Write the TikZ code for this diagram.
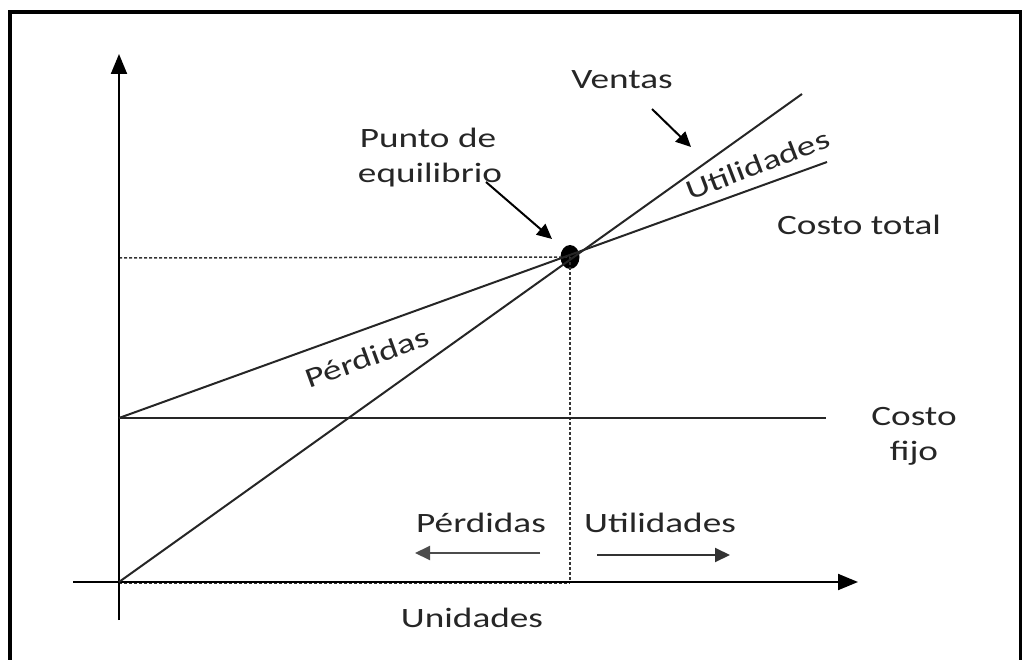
\documentclass[tikz,border=0pt]{standalone}
\usepackage{fontspec}
\setmainfont{Carlito}[FakeStretch=1.33]
\usetikzlibrary{arrows.meta,shapes.geometric}
\begin{document}
\begin{tikzpicture}[x=1pt,y=-1pt,
  line/.style={line width=2pt,black!85},
  dash line/.style={line width=1.5pt,dash pattern=on 3pt off 2pt,black!80},
  axisarrow/.style={line width=2pt,-{Triangle[length=20pt,width=16pt]}},
  smallarrow/.style={line width=2pt,-{Triangle[length=15pt,width=14pt]}},
  lbl/.style={inner sep=0pt,anchor=base,font=\fontsize{28}{35}\selectfont,text=black!85}]
\useasboundingbox (0,0) rectangle (1022,660);
% frame
\draw[line width=4pt] (10,664) -- (10,12) -- (1022,12);
\draw[line width=2.5pt] (1020.5,12) -- (1020.5,664);
% coordinates
\coordinate (O) at (119,582);
\coordinate (ytop) at (119,54);
\coordinate (ybot) at (119,620);
\coordinate (xleft) at (73,582);
\coordinate (xright) at (858,582);
\coordinate (V) at (802,94);
\coordinate (CT0) at (119,418);
\coordinate (CT) at (827,162);
\coordinate (CF) at (826,418);
\coordinate (Ey) at (119,258);
\coordinate (Ex) at (570,583);
\node[ellipse,fill=black,minimum width=19pt,minimum height=24pt,inner sep=0pt] (E) at (570,257) {};
% dashed guides
\draw[dash line] (Ey) -- (E.center);
\draw[dash line] (E.center) -- (Ex);
\draw[dash line] (119,583) -- (Ex);
% axes
\draw[axisarrow] (ybot) -- (ytop);
\draw[axisarrow] (xleft) -- (xright);
% lines
\draw[line] (O) -- (V);
\draw[line] (CT0) -- (CT);
\draw[line] (CT0) -- (CF);
% labels
\node[lbl] (ventas) at (622,89) {Ventas};
\node[lbl] (pe1) at (428,148) {Punto de};
\node[lbl] (pe2) at (430,183) {equilibrio};
\node[lbl] (ctotal) at (859,235) {Costo total};
\node[lbl] (cf1) at (914,425) {Costo};
\node[lbl] (cf2) at (914,460) {fijo};
\node[lbl,anchor=base west,rotate=20] (perd) at (309,389) {Pérdidas};
\node[lbl,anchor=base west,rotate=21] (util) at (690,201) {Utilidades};
\node[lbl] (perd2) at (481,532) {Pérdidas};
\node[lbl] (util2) at (660,532) {Utilidades};
\node[lbl] (unid) at (472,627) {Unidades};
% pointer arrows
\coordinate (va) at (652,109);
\coordinate (vb) at (691,147);
\draw[smallarrow] (va) -- (vb);
\coordinate (pa) at (486,182);
\coordinate (pb) at (552,239);
\draw[smallarrow] (pa) -- (pb);
\coordinate (la) at (540,553);
\coordinate (lb) at (415,553);
\draw[smallarrow,black!70] (la) -- (lb);
\coordinate (ra) at (597,555);
\coordinate (rb) at (730,555);
\draw[smallarrow,black!80] (ra) -- (rb);
\end{tikzpicture}
\end{document}
